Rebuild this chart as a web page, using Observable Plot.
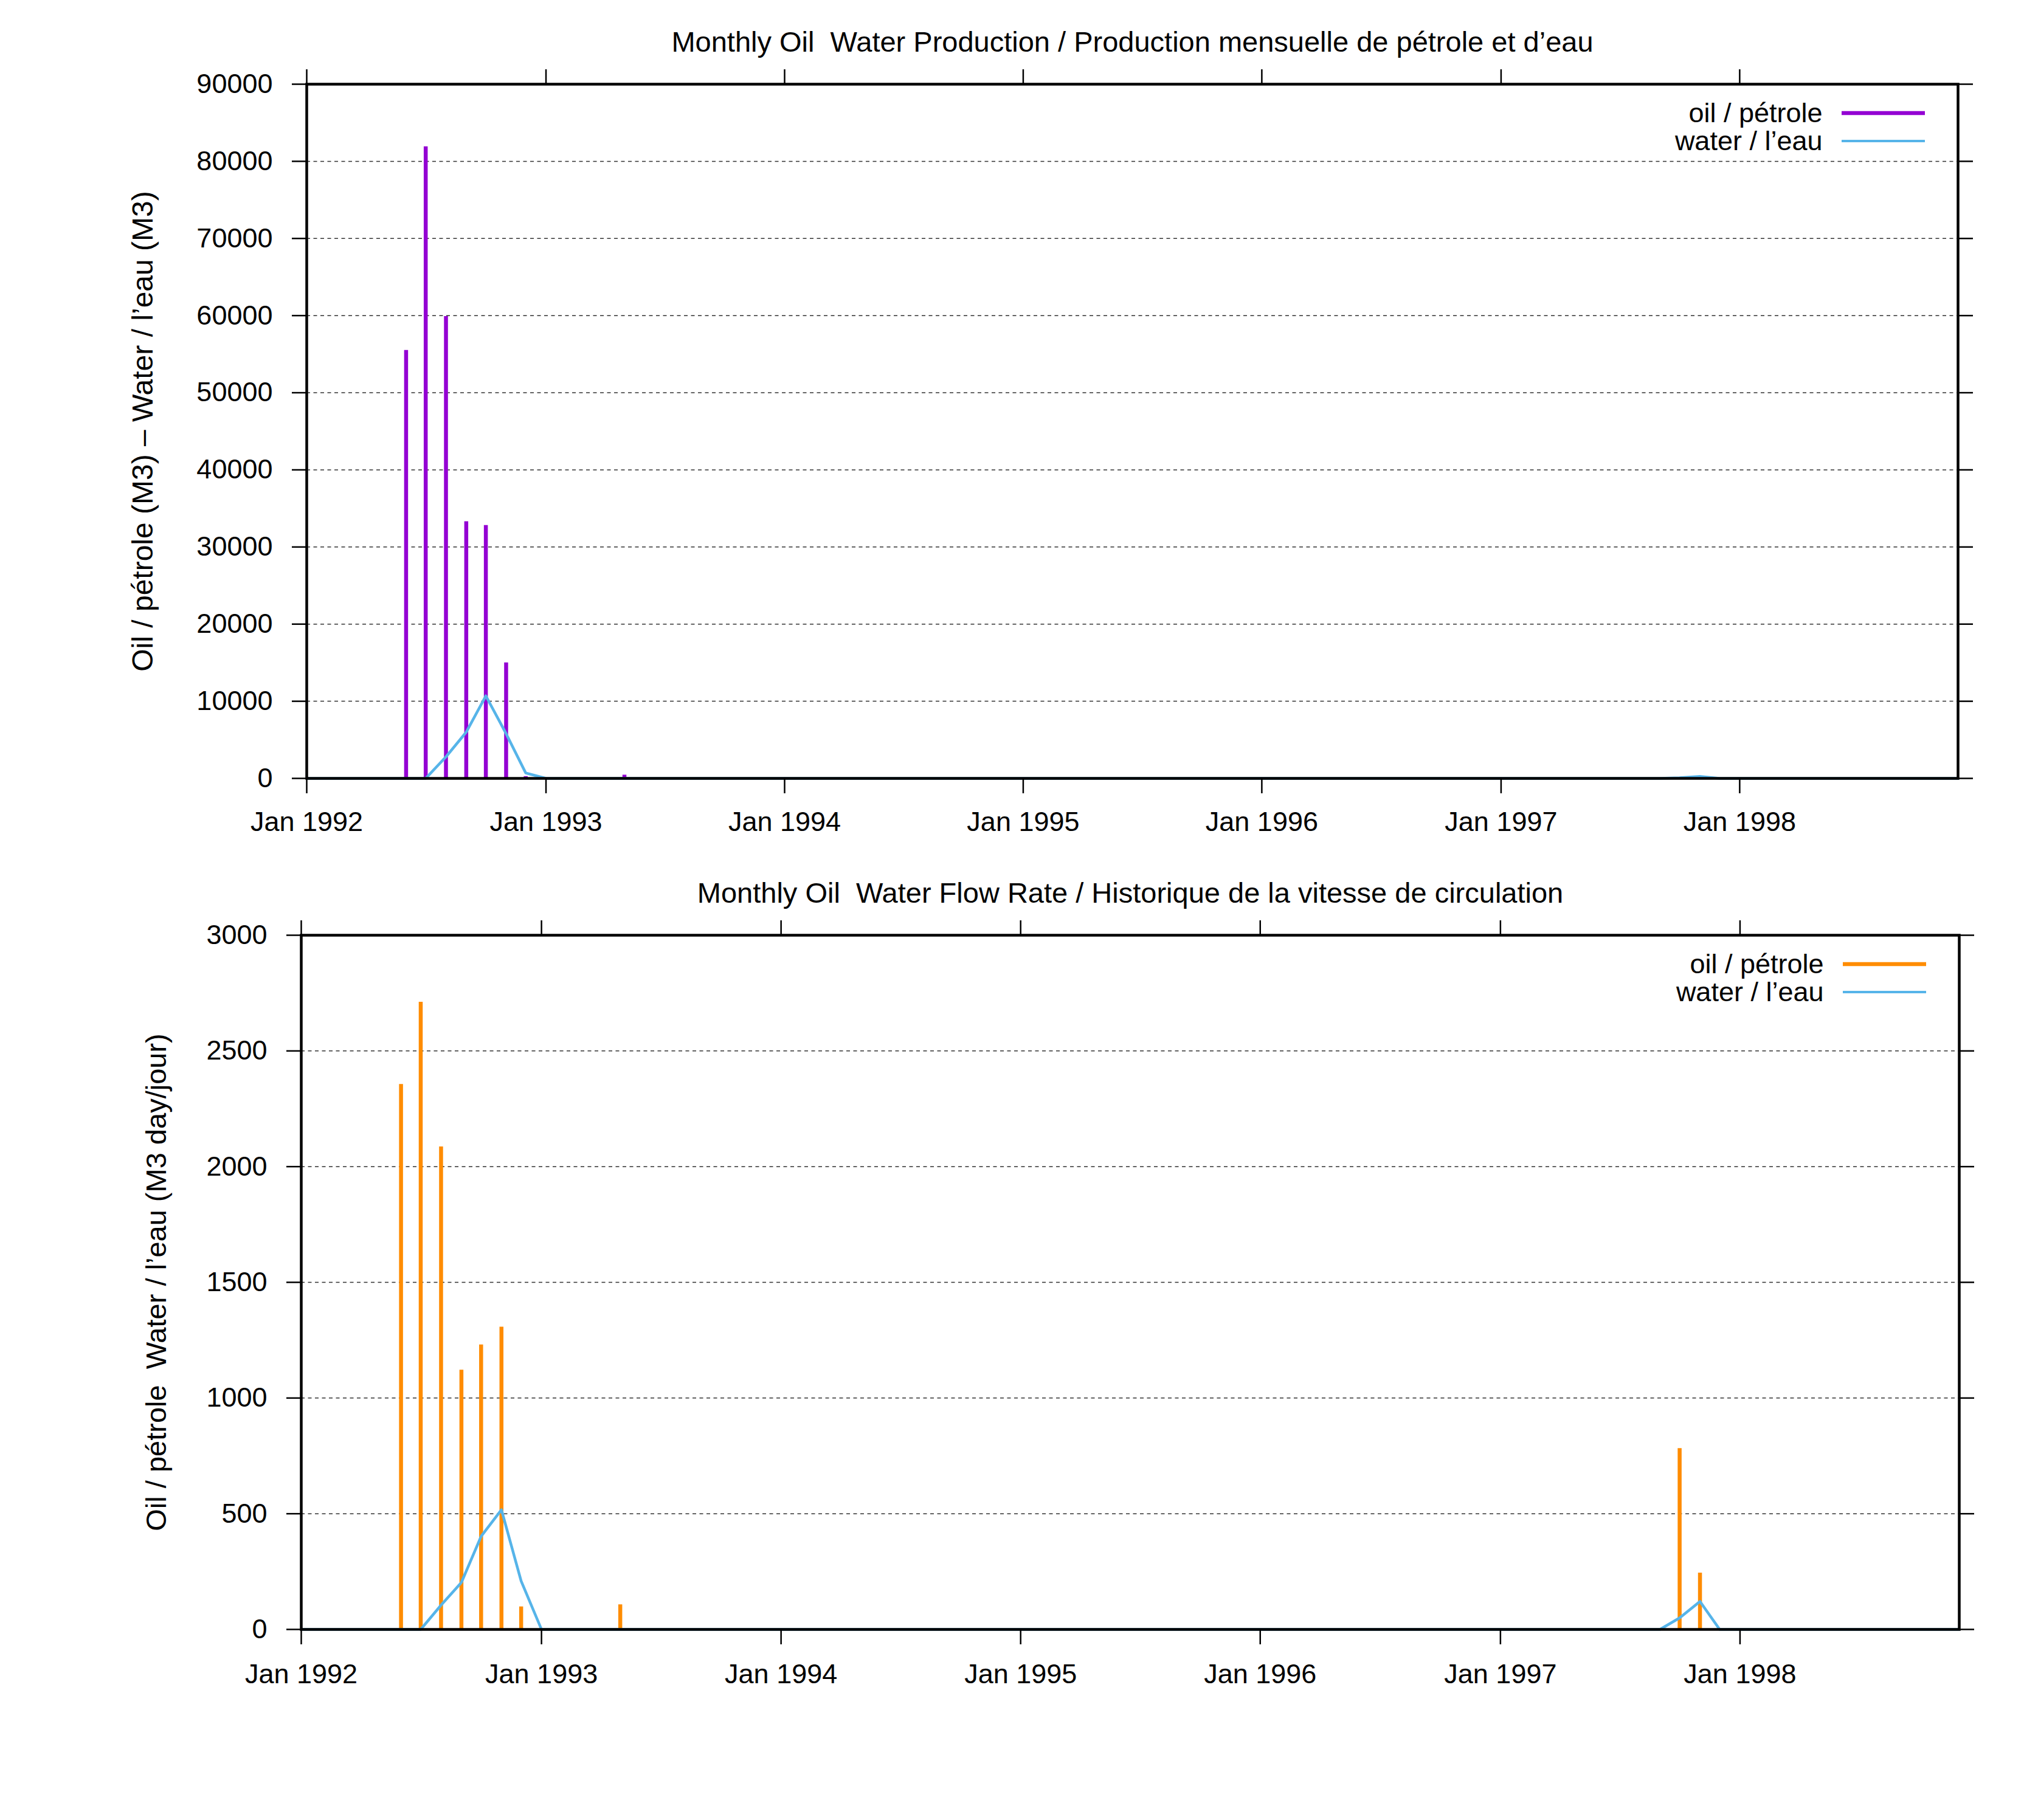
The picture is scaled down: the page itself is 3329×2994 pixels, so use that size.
<!DOCTYPE html>
<html>
<head>
<meta charset="utf-8">
<script src="https://cdn.jsdelivr.net/npm/d3@7"></script>
<script src="https://cdn.jsdelivr.net/npm/@observablehq/plot@0.6"></script>
<style>
  html, body { margin: 0; padding: 0; background: #fff; }
  #wrap svg { display: block; }
</style>
</head>
<body>
<div id="wrap"></div>
<script>
// ---------- data ----------
const xDomain = ["1992-01", "1998-12"];
const yearTicks = ["1992-01", "1993-01", "1994-01", "1995-01", "1996-01", "1997-01", "1998-01"];

// production (M3 per month)
const oilProdMonths = ["1992-06", "1992-07", "1992-08", "1992-09", "1992-10", "1992-11", "1992-12", "1993-05", "1997-10", "1997-11"];
const oilProd = [55500, 81900, 59900, 33300, 32800, 15000, 250, 440, 60, 150];
const waterProdMonths = ["1992-01", "1992-07", "1992-08", "1992-09", "1992-10", "1992-11", "1992-12", "1993-01", "1997-09", "1997-10", "1997-11", "1997-12", "1998-12"];
const waterProd = [0, 0, 2800, 6000, 10700, 5800, 700, 0, 0, 80, 250, 0, 0];

// flow rate (M3 per day)
const oilRateMonths = ["1992-06", "1992-07", "1992-08", "1992-09", "1992-10", "1992-11", "1992-12", "1993-05", "1997-10", "1997-11"];
const oilRate = [2356, 2711, 2086, 1121, 1230, 1307, 98, 107, 782, 244];
const waterRateMonths = ["1992-01", "1992-07", "1992-08", "1992-09", "1992-10", "1992-11", "1992-12", "1993-01", "1997-09", "1997-10", "1997-11", "1997-12", "1998-12"];
const waterRate = [0, 0, 105, 203, 402, 517, 209, 0, 0, 50, 121, 0, 0];

const prodTicks = [0, 10000, 20000, 30000, 40000, 50000, 60000, 70000, 80000, 90000];
const rateTicks = [0, 500, 1000, 1500, 2000, 2500, 3000];

const titleTop = "Monthly Oil\u00a0 Water Production / Production mensuelle de pétrole et d’eau";
const titleBottom = "Monthly Oil\u00a0 Water Flow Rate / Historique de la vitesse de circulation";
const yLabelTop = "Oil / pétrole (M3) – Water / l’eau (M3)";
const yLabelBottom = "Oil / pétrole\u00a0 Water / l’eau (M3 day/jour)";
const legendOil = "oil / pétrole";
const legendWater = "water / l’eau";

// ---------- helpers ----------
const parse = d3.utcParse("%Y-%m");
const rows = (months, values) => months.map((m, i) => ({date: parse(m), value: values[i]}));
const FONT = "'Liberation Sans', Arial, Helvetica, sans-serif";

function chart(o) {
  const oil = rows(o.oilMonths, o.oilValues);
  const water = rows(o.waterMonths, o.waterValues);
  const legendSwatches = (index, scales, values, dim) => {
    const g = d3.create("svg:g");
    const right = dim.width - dim.marginRight - 54;
    const left = right - 137;
    g.append("line").attr("x1", left).attr("x2", right)
      .attr("y1", dim.marginTop + 48).attr("y2", dim.marginTop + 48)
      .attr("stroke", o.oilColor).attr("stroke-width", 6.5);
    g.append("line").attr("x1", left).attr("x2", right)
      .attr("y1", dim.marginTop + 94).attr("y2", dim.marginTop + 94)
      .attr("stroke", "#56b4e9").attr("stroke-width", 4);
    return g.node();
  };
  return Plot.plot({
    width: 3329,
    height: o.height,
    marginTop: o.marginTop,
    marginBottom: o.marginBottom,
    marginLeft: o.marginLeft,
    marginRight: o.marginRight,
    style: {fontFamily: FONT, fontSize: "45px", background: "#fff", color: "#000", overflow: "visible"},
    x: {type: "utc", domain: xDomain.map(parse)},
    y: {domain: [0, o.yTicks[o.yTicks.length - 1]]},
    marks: [
      Plot.gridY(o.yTicks, {stroke: "#333", strokeOpacity: 1, strokeWidth: 1.5, strokeDasharray: "6,5.5"}),
      Plot.ruleX(oil, {x: "date", y1: 0, y2: "value", stroke: o.oilColor, strokeWidth: 6.5}),
      Plot.line(water, {x: "date", y: "value", stroke: "#56b4e9", strokeWidth: 4.5}),
      Plot.axisY(o.yTicks, {anchor: "left", tickSize: 24, tickPadding: 32, strokeWidth: 2.5, label: null, tickFormat: d => String(d)}),
      Plot.axisY(o.yTicks, {anchor: "right", tickSize: 24, strokeWidth: 2.5, label: null, tickFormat: () => ""}),
      Plot.axisX(yearTicks.map(parse), {anchor: "bottom", tickSize: 25, tickPadding: o.xPad, strokeWidth: 2.5, label: null, tickFormat: d3.utcFormat("%b %Y")}),
      Plot.axisX(yearTicks.map(parse), {anchor: "top", tickSize: 25, strokeWidth: 2.5, label: null, tickFormat: () => ""}),
      Plot.frame({stroke: "#000", strokeWidth: 4.5}),
      Plot.text([o.title], {frameAnchor: "top", lineAnchor: "bottom", dy: -54, fontSize: 47}),
      Plot.text([o.yLabel], {frameAnchor: "left", rotate: -90, dx: o.labelDx, lineAnchor: "middle", textAnchor: "middle", fontSize: o.labelSize}),
      Plot.text([legendOil], {frameAnchor: "top-right", textAnchor: "end", lineAnchor: "middle", dx: -223, dy: 48, fontSize: 45}),
      Plot.text([legendWater], {frameAnchor: "top-right", textAnchor: "end", lineAnchor: "middle", dx: -223, dy: 94, fontSize: 45}),
      legendSwatches
    ]
  });
}

const wrap = document.getElementById("wrap");
wrap.appendChild(chart({
  oilMonths: oilProdMonths, oilValues: oilProd,
  waterMonths: waterProdMonths, waterValues: waterProd,
  oilColor: "#9400d3", yTicks: prodTicks,
  title: titleTop, yLabel: yLabelTop, labelSize: 48, xPad: 30,
  height: 1400, marginTop: 138, marginBottom: 120, marginLeft: 504, marginRight: 109, labelDx: -269
}));
wrap.appendChild(chart({
  oilMonths: oilRateMonths, oilValues: oilRate,
  waterMonths: waterRateMonths, waterValues: waterRate,
  oilColor: "#ff8c00", yTicks: rateTicks,
  title: titleBottom, yLabel: yLabelBottom, labelSize: 47, xPad: 32,
  height: 1594, marginTop: 138, marginBottom: 314, marginLeft: 495, marginRight: 107, labelDx: -238
}));
</script>
</body>
</html>
